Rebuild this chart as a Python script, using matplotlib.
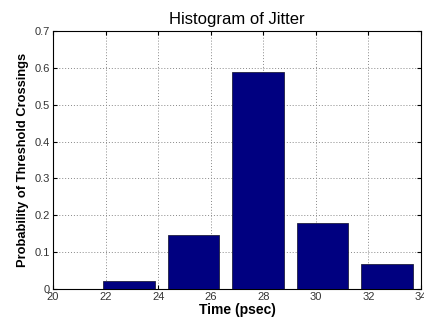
import matplotlib
matplotlib.use("Agg")
import matplotlib.pyplot as plt

bin_centers = [22.9, 25.35, 27.8, 30.25, 32.7]
probabilities = [0.022, 0.147, 0.589, 0.178, 0.067]
xticks = [20, 22, 24, 26, 28, 30, 32, 34]
yticks = [0, 0.1, 0.2, 0.3, 0.4, 0.5, 0.6, 0.7]

plt.rcParams['font.family'] = ['Liberation Sans', 'DejaVu Sans']

fig = plt.figure(figsize=(4.24, 3.2), dpi=100)
ax = fig.add_axes([0.125, 0.097, 0.868, 0.806])
ax.bar(bin_centers, probabilities, width=1.96, color='#000080',
       edgecolor='#202040', linewidth=0.6, zorder=3)
ax.set_xlim(20, 34)
ax.set_ylim(0, 0.7)
ax.set_xticks(xticks)
ax.set_yticks(yticks)
ax.set_yticklabels(['0', '0.1', '0.2', '0.3', '0.4', '0.5', '0.6', '0.7'])
ax.tick_params(labelsize=8, length=3, direction='in', labelcolor='#333333', pad=2,
               top=True, right=True)
ax.grid(True, linestyle=(0, (1, 2)), color='#888888', linewidth=0.7, zorder=0)
for s in ax.spines.values():
    s.set_linewidth(0.8)
ax.set_title('Histogram of Jitter', fontsize=12, pad=5)
ax.set_xlabel('Time (psec)', fontsize=10, fontweight='bold', labelpad=1)
ax.set_ylabel('Probability of Threshold Crossings', fontsize=9.3, fontweight='bold', labelpad=4)

fig.savefig('out.png', dpi=100)
